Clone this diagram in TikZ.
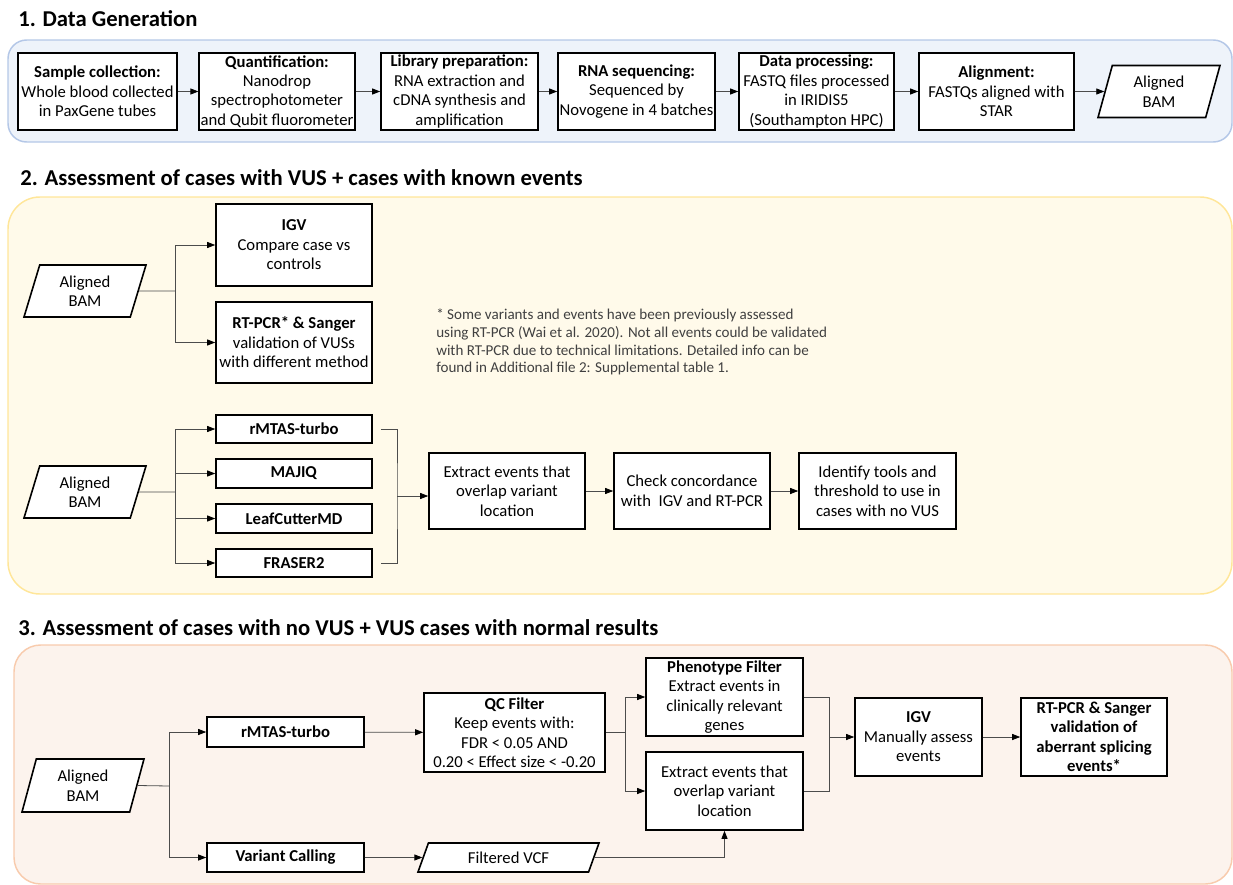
\documentclass[tikz,border=0pt]{standalone}
\usepackage{fontspec}
\setmainfont{Carlito}
\usepackage{tikz}
\usetikzlibrary{arrows.meta,shapes.geometric,positioning}

\definecolor{panA}{HTML}{EEF3FA}
\definecolor{panAline}{HTML}{B4C7E7}
\definecolor{panB}{HTML}{FFFAEA}
\definecolor{panBline}{HTML}{FFE699}
\definecolor{panC}{HTML}{FCF3ED}
\definecolor{panCline}{HTML}{F8CBAD}
\definecolor{notegray}{HTML}{404040}

\tikzset{
	blk/.style 2 args={draw, line width=1.2pt, fill=white, align=center, inner sep=1pt,
		minimum width=#1*0.75pt, minimum height=#2*0.75pt, font=\fontsize{12.5}{14.6}\selectfont},
	para/.style n args={4}{trapezium, trapezium left angle=#3, trapezium right angle=#4,
		trapezium stretches body, draw, line width=1.2pt, fill=white, align=center, inner sep=1pt,
		minimum width=#1*0.75pt, minimum height=#2*0.75pt, font=\fontsize{12.5}{14.6}\selectfont},
	conn/.style={line width=0.6pt, draw=black!70},
	arr/.style={conn, -{Triangle[length=6pt,width=4.5pt,color=black]}},
	panel/.style={line width=1.1pt, rounded corners=14pt},
	ttl/.style={anchor=west, inner sep=0pt, font=\fontsize{17}{20}\selectfont\bfseries}
}

\begin{document}
\begin{tikzpicture}[x=0.75pt, y=-0.75pt]
	\useasboundingbox (0,0) rectangle (1233,885);

	\node[ttl] (t1) at (18,19) {1. Data Generation};
	\draw[panel, fill=panA, draw=panAline] (8,40) rectangle (1232,142);
	\node[blk={159}{77}] (samp) at (97.5,91.5) {\textbf{Sample collection:}\\Whole blood collected\\in PaxGene tubes};
	\node[blk={154}{77}] (quant) at (277,91.5) {\textbf{Quantification:}\\Nanodrop\\spectrophotometer\\and Qubit fluorometer};
	\node[blk={157}{77}] (libp) at (459.5,91.5) {\textbf{Library preparation:}\\RNA extraction and\\cDNA synthesis and\\amplification};
	\node[blk={157}{77}] (rnaseq) at (636.5,91.5) {\textbf{RNA sequencing:}\\Sequenced by\\Novogene in 4 batches};
	\node[blk={155}{77}] (dproc) at (816.5,91.5) {\textbf{Data processing:}\\FASTQ files processed\\in IRIDIS5\\(Southampton HPC)};
	\node[blk={155}{77}] (algn) at (996.5,91.5) {\textbf{Alignment:}\\FASTQs aligned with\\STAR};
	\node[para={122}{52}{67}{113}] (bam1) at (1159,91.5) {Aligned\\BAM};
	\foreach \a/\b in {samp/quant, quant/libp, libp/rnaseq, rnaseq/dproc, dproc/algn, algn/bam1}
		\draw[arr] (\a) -- (\b);

	\node[ttl] (t2) at (20,178) {2. Assessment of cases with VUS + cases with known events};
	\draw[panel, rounded corners=24pt, fill=panB, draw=panBline] (8,197) rectangle (1232,594);
	\node[para={122}{52}{65}{115}] (bamA) at (85,291) {Aligned\\BAM};
	\node[blk={156}{82}] (igvA) at (294,245) {\textbf{IGV}\\Compare case vs\\controls};
	\node[blk={156}{81}] (rtA) at (294,342.5) {\textbf{RT-PCR* \& Sanger}\\validation of VUSs\\with different method};
	\coordinate (jA) at (175,291);
	\draw[conn] (bamA.east) -- (jA);
	\draw[arr] (jA) |- (igvA.west);
	\draw[arr] (jA) |- (rtA.west);
	\node[anchor=north west, align=left, inner sep=0pt, text=notegray, font=\fontsize{11.3}{13.2}\selectfont] (note) at (436,309)
		{* Some variants and events have been previously assessed\\using RT-PCR (Wai et al. 2020). Not all events could be validated\\with RT-PCR due to technical limitations. Detailed info can be\\found in Additional file 2: Supplemental table 1.};

	\node[para={122}{52}{65}{115}] (bamB) at (85,492) {Aligned\\BAM};
	\node[blk={156}{28}] (rmtasB) at (294,429) {\textbf{rMTAS-turbo}};
	\node[blk={156}{29}] (majiq) at (294,473.5) {\textbf{MAJIQ}};
	\node[blk={156}{29}] (leafc) at (294,518.5) {\textbf{LeafCutterMD}};
	\node[blk={156}{28}] (fraser) at (294,563) {\textbf{FRASER2}};
	\coordinate (jB) at (175,492);
	\draw[conn] (bamB.east) -- (jB);
	\foreach \n in {rmtasB, majiq, leafc, fraser}
		\draw[arr] (jB) |- (\n.west);
	\node[blk={156}{76}] (extB) at (507,491) {Extract events that\\overlap variant\\location};
	\node[blk={156}{76}] (chk) at (692,491) {Check concordance\\with~ IGV and RT-PCR};
	\node[blk={157}{76}] (ident) at (877.5,491) {Identify tools and\\threshold to use in\\cases with no VUS};
	\coordinate (kB) at (397,496);
	\draw[conn] ([xshift=6pt]rmtasB.east) -| (kB) |- ([xshift=6pt]fraser.east);
	\draw[arr] (kB) -- (kB -| extB.west);
	\draw[arr] (extB) -- (chk);
	\draw[arr] (chk) -- (ident);

	\node[ttl] (t3) at (18,628) {3. Assessment of cases with no VUS + VUS cases with normal results};
	\draw[panel, rounded corners=20pt, fill=panC, draw=panCline] (14,645) rectangle (1232,884);
	\node[para={122}{53}{67}{113}] (bamC) at (83,785.5) {Aligned\\BAM};
	\node[blk={157}{30}] (rmtasC) at (285.5,732) {\textbf{rMTAS-turbo}};
	\node[blk={157}{29}] (vcall) at (285.5,857.5) {\textbf{Variant Calling}};
	\coordinate (jC) at (169,786);
	\draw[conn] (bamC.east) -- (jC);
	\draw[arr] (jC) |- (rmtasC.west);
	\draw[arr] (jC) |- (vcall.west);
	\node[blk={181}{79}] (qcf) at (514.5,732.5) {\textbf{QC Filter}\\Keep events with:\\FDR < 0.05 AND\\0.20 < Effect size < -0.20};
	\node[para={181}{29}{54}{126}] (vcf) at (508.5,857.5) {Filtered VCF};
	\draw[arr] (rmtasC) -- (qcf);
	\draw[arr] (vcall) -- (vcf);
	\node[blk={157}{78}] (pheno) at (724.5,697) {\textbf{Phenotype Filter}\\Extract events in\\clinically relevant\\genes};
	\node[blk={157}{78}] (extC) at (724.5,791) {Extract events that\\overlap variant\\location};
	\coordinate (jD) at (625,732.5);
	\draw[conn] (qcf.east) -- (jD);
	\draw[arr] (jD) |- (pheno.west);
	\draw[arr] (jD) |- (extC.west);
	\draw[arr] (vcf.east) -| (extC.south);
	\node[blk={127}{78}] (igvC) at (918.5,737) {\textbf{IGV}\\Manually assess\\events};
	\node[blk={146}{78}] (rtC) at (1094,737) {\textbf{RT-PCR \& Sanger}\\\textbf{validation of}\\\textbf{aberrant splicing}\\\textbf{events*}};
	\coordinate (jE) at (829,737);
	\draw[conn] (pheno.east) -| (jE);
	\draw[conn] (extC.east) -| (jE);
	\draw[arr] (jE) -- (igvC.west);
	\draw[arr] (igvC) -- (rtC);
\end{tikzpicture}
\end{document}
